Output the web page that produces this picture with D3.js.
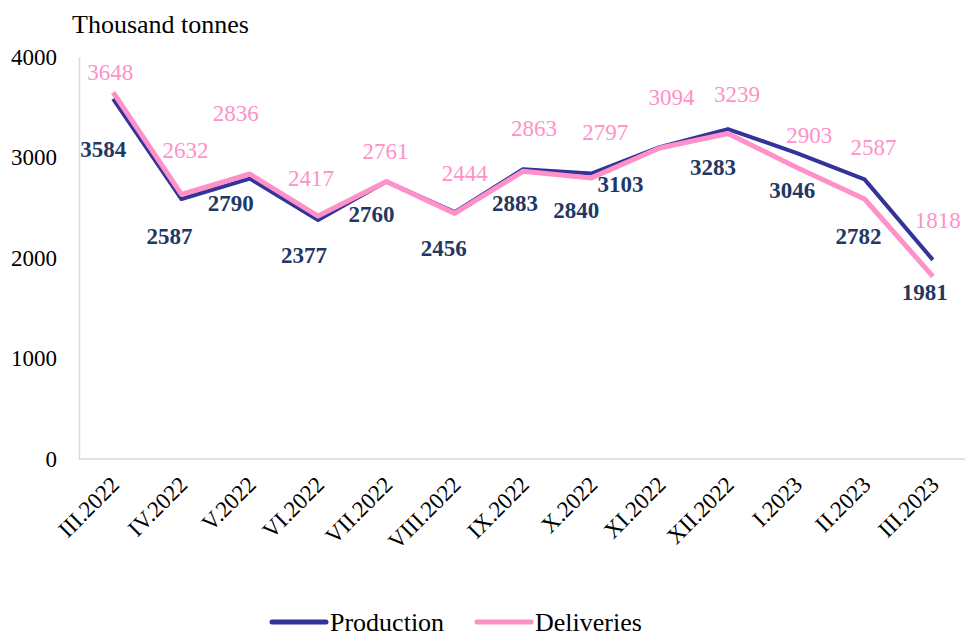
<!DOCTYPE html>
<html>
  <head>
    <meta charset="utf-8">
    <script src="https://d3js.org/d3.v7.min.js"></script>
    <style>
      body { margin: 0; background: #fff; }
      svg text { font-family: "Liberation Serif", "Times New Roman", serif; }
    </style>
  </head>
  <body>
    <script>

      // data
      var months = ["III.2022", "IV.2022", "V.2022", "VI.2022", "VII.2022", "VIII.2022",
                    "IX.2022", "X.2022", "XI.2022", "XII.2022", "I.2023", "II.2023", "III.2023"];
      var production = [3584, 2587, 2790, 2377, 2760, 2456, 2883, 2840, 3103, 3283, 3046, 2782, 1981];
      var deliveries = [3648, 2632, 2836, 2417, 2761, 2444, 2863, 2797, 3094, 3239, 2903, 2587, 1818];
      var yTicks = [0, 1000, 2000, 3000, 4000];

      // hand placed label offsets (px), like in the original chart
      var prodOff = [[-10,50],[-12,37],[-19,24],[-14,35],[-15,32],[-11,36],[-8,34],
                     [-15,36],[-39,37],[-15,38],[-4,37],[-6,57],[-8,32]];
      var delOff = [[-3,-20],[4,-45],[-14,-61],[-7,-38],[-1,-31],[10,-40],[11,-43],
                    [14,-46],[12,-51],[9,-40],[13,-32],[9,-52],[5,-56]];

      var navy = "#333399", navyText = "#1f3864", pink = "#ff91c8";
      var serif = "'Liberation Serif', 'Times New Roman', serif";

      var svg = d3.select("body")
        .append("svg")
        .attr("width", 965)
        .attr("height", 636)
        .attr("font-family", serif);

      var x = d3.scalePoint()
        .domain(months)
        .range([79, 967])
        .padding(0.5);

      var y = d3.scaleLinear()
        .domain([0, 4000])
        .range([459, 57]);

      // title
      svg.append("text")
        .attr("x", 72)
        .attr("y", 33)
        .style("font-size", "26px")
        .attr("fill", "#000")
        .text("Thousand tonnes");

      // y axis
      var yAxisG = svg.append("g")
        .attr("transform", "translate(79,0)")
        .call(d3.axisLeft(y).tickValues(yTicks).tickSize(0).tickPadding(22).tickFormat(d3.format("d")));
      yAxisG.attr("font-family", serif);
      yAxisG.select(".domain").attr("stroke", "#d9d9d9").attr("stroke-width", 1.5);
      yAxisG.selectAll("text")
        .style("font-size", "23px")
        .attr("fill", "#000");

      // x axis
      var xAxisG = svg.append("g")
        .attr("transform", "translate(0,459)")
        .call(d3.axisBottom(x).tickSize(0).tickPadding(0));
      xAxisG.attr("font-family", serif);
      xAxisG.select(".domain").attr("stroke", "#d9d9d9").attr("stroke-width", 1.5)
        .attr("d", "M79,0H965");
      xAxisG.selectAll("text")
        .style("font-size", "23px")
        .attr("fill", "#000")
        .attr("text-anchor", "end")
        .attr("dy", "0")
        .attr("y", 0)
        .attr("transform", "translate(7,27) rotate(-45)");

      // lines
      var line = d3.line()
        .x(function(d, i) { return x(months[i]); })
        .y(function(d) { return y(d); });

      svg.append("path")
        .datum(production)
        .attr("fill", "none")
        .attr("stroke", navy)
        .attr("stroke-width", 4)
        .attr("stroke-linejoin", "round")
        .attr("d", line);

      svg.append("path")
        .datum(deliveries)
        .attr("fill", "none")
        .attr("stroke", pink)
        .attr("stroke-width", 5)
        .attr("stroke-linejoin", "round")
        .attr("d", line);

      // data labels
      svg.selectAll(".plab")
        .data(production)
        .enter()
        .append("text")
        .attr("class", "plab")
        .attr("x", function(d, i) { return x(months[i]) + prodOff[i][0]; })
        .attr("y", function(d, i) { return y(d) + prodOff[i][1]; })
        .attr("dy", "0.35em")
        .attr("text-anchor", "middle")
        .style("font-size", "23px")
        .style("font-weight", "bold")
        .attr("fill", navyText)
        .text(function(d) { return d; });

      svg.selectAll(".dlab")
        .data(deliveries)
        .enter()
        .append("text")
        .attr("class", "dlab")
        .attr("x", function(d, i) { return x(months[i]) + delOff[i][0]; })
        .attr("y", function(d, i) { return y(d) + delOff[i][1]; })
        .attr("dy", "0.35em")
        .attr("text-anchor", "middle")
        .style("font-size", "23px")
        .attr("fill", pink)
        .text(function(d) { return d; });

      // legend
      var legend = svg.append("g").attr("class", "legend");
      var items = [["Production", navy, 272], ["Deliveries", pink, 477]];
      items.forEach(function(it) {
        legend.append("line")
          .attr("x1", it[2]).attr("x2", it[2] + 54)
          .attr("y1", 622).attr("y2", 622)
          .attr("stroke", it[1])
          .attr("stroke-width", 5)
          .attr("stroke-linecap", "round");
        legend.append("text")
          .attr("x", it[2] + 58)
          .attr("y", 622)
          .attr("dy", "0.35em")
          .style("font-size", "26px")
          .attr("fill", "#000")
          .text(it[0]);
      });

    </script>
  </body>
</html>
